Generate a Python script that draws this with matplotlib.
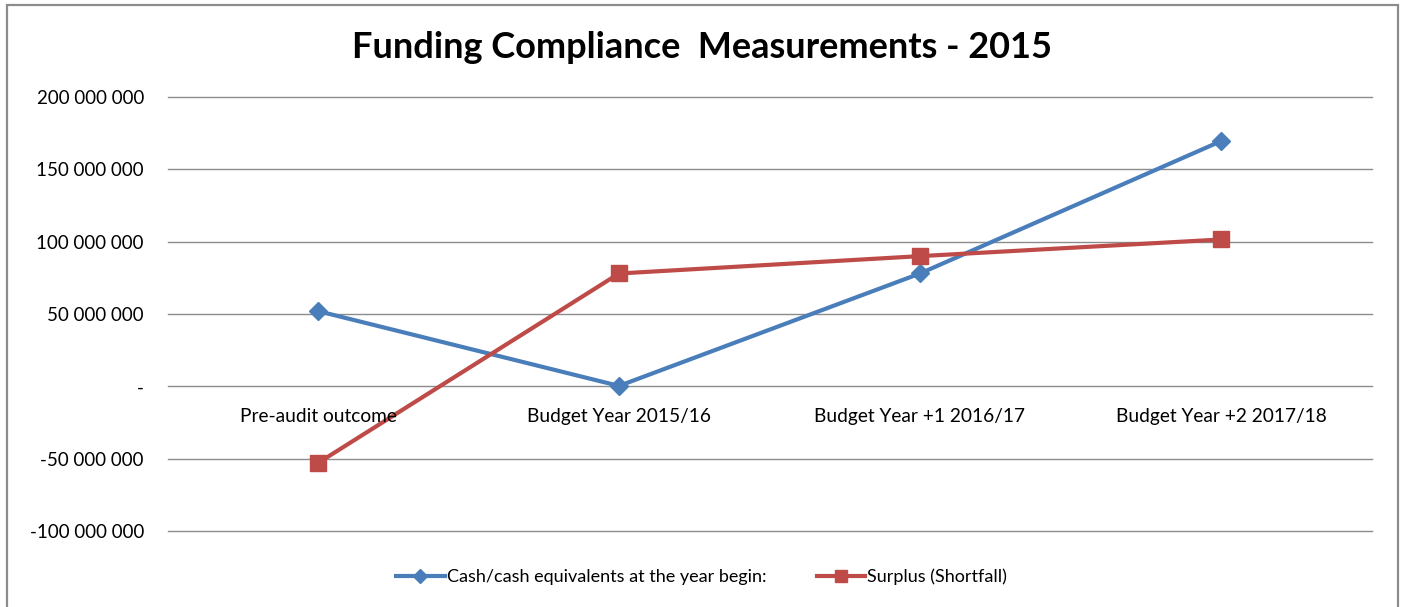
import matplotlib
matplotlib.use("Agg")
import matplotlib.pyplot as plt
from matplotlib.patches import Rectangle
from matplotlib.ticker import FuncFormatter

categories = ["Pre-audit outcome", "Budget Year 2015/16", "Budget Year +1 2016/17", "Budget Year +2 2017/18"]
cash = [52000000, 300000, 78000000, 169500000]
surplus = [-53000000, 78000000, 90000000, 101500000]
series_names = ["Cash/cash equivalents at the year begin:", "Surplus (Shortfall)"]
yticks = [-100000000, -50000000, 0, 50000000, 100000000, 150000000, 200000000]

plt.rcParams['font.family'] = ['Lato', 'DejaVu Sans']

W, H = 1403, 607
fig = plt.figure(figsize=(W / 100, H / 100), dpi=100)
fig.patch.set_facecolor("white")

# outer frame
fig.patches.append(Rectangle((7 / W, -0.05), (1398 - 7) / W, 1.05 - 5 / H,
                             transform=fig.transFigure, fill=False,
                             edgecolor="#8c8c8c", linewidth=1.6))

left, right = 167.5 / W, 1371.5 / W
top_px, bot_px = 97, 531
ax = fig.add_axes([left, 1 - bot_px / H, right - left, (bot_px - top_px) / H])

x = list(range(len(categories)))
l1, = ax.plot(x, cash, color="#4a7ebb", linewidth=3, marker="D", markersize=9,
              label=series_names[0], zorder=3)
l2, = ax.plot(x, surplus, color="#be4b48", linewidth=3, marker="s", markersize=12,
              label=series_names[1], zorder=3)

ax.set_xlim(-0.5, len(categories) - 0.5)
ax.set_ylim(-100000000, 200000000)
ax.set_yticks(yticks)

def fmt(v, pos):
    if v == 0:
        return "-"
    s = f"{abs(int(v)):,}".replace(",", " ")
    return ("-" if v < 0 else "") + s

ax.yaxis.set_major_formatter(FuncFormatter(fmt))
for t in yticks:
    ax.axhline(t, color="#8c8c8c", linewidth=1, zorder=1, clip_on=False)
for s in ax.spines.values():
    s.set_visible(False)
ax.tick_params(axis="y", length=0, labelsize=13.5, pad=17, colors="#000000")
ax.set_xticks([])

# category labels placed at zero line
for i, c in enumerate(categories):
    ax.annotate(c, xy=(i, 0), xytext=(0, -22), textcoords="offset points",
                ha="center", va="center", fontsize=13.8)

fig.text(0.5, 1 - 47 / H, "Funding Compliance  Measurements - 2015",
         ha="center", va="center", fontsize=26, fontweight="bold")

from matplotlib.lines import Line2D
h1 = Line2D([], [], color="#4a7ebb", linewidth=3, marker="D", markersize=7)
h2 = Line2D([], [], color="#be4b48", linewidth=3, marker="s", markersize=9)
leg = fig.legend([h1, h2], series_names, loc="center",
                 bbox_to_anchor=(0.5, 1 - 577 / H), ncol=2,
                 frameon=False, fontsize=13, handlelength=2.7, columnspacing=2.8,
                 handletextpad=0.1)

fig.savefig("out.png", dpi=100)
